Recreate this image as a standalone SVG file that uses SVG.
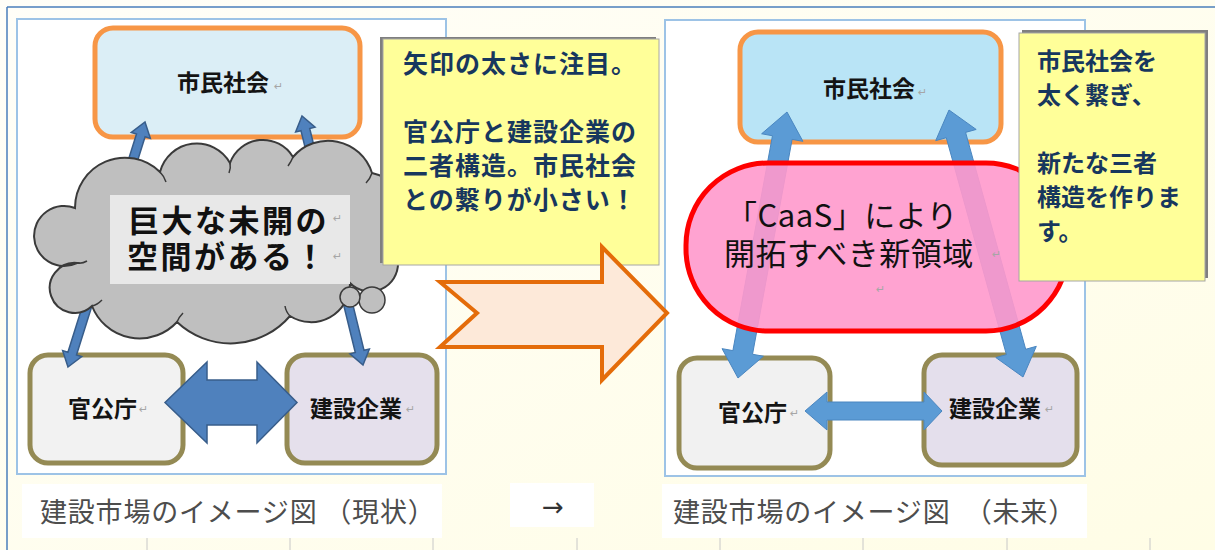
<svg xmlns="http://www.w3.org/2000/svg" width="1215" height="550" viewBox="0 0 1215 550">
<defs>
<linearGradient id="bg" x1="0" y1="0" x2="1" y2="1">
<stop offset="0" stop-color="#fffef8"/>
<stop offset="1" stop-color="#fffde6"/>
</linearGradient>
<style>
.frame{fill:#ffffff;stroke:#9dc3e6;stroke-width:2}
.civ{stroke:#f79646;stroke-width:5}
.base{stroke:#948a54;stroke-width:5}
.lbl{font-family:"Noto Sans CJK JP","Noto Sans CJK SC",sans-serif;font-weight:bold;font-size:23px;fill:#141414}
.ret{font-family:"DejaVu Sans",sans-serif;font-size:11px;fill:#a6a6a6}
.note{fill:#ffff99;stroke:#a6a6a6;stroke-width:1}
.shadow{fill:#7f7f7f}
.ntxt{font-family:"Noto Sans CJK JP","Noto Sans CJK SC",sans-serif;font-weight:bold;fill:#17375e}
.arrL{fill:#4f81bd;stroke:#385d8a;stroke-width:1.5;stroke-linejoin:miter}
.arrR{fill:#5b9bd5;stroke:#4a86c0;stroke-width:1}
.cap{font-family:"Noto Sans CJK JP","Noto Sans CJK SC",sans-serif;font-size:27px;fill:#4d4d4d}
.big{font-family:"Noto Sans CJK JP","Noto Sans CJK SC",sans-serif;font-size:31px;fill:#111111}
.tick{stroke:#c8c8c8;stroke-width:1}
</style>
</defs>

<rect x="0" y="0" width="1215" height="550" fill="url(#bg)"/>
<g id="caption-backgrounds" fill="#ffffff">
<rect x="22" y="484" width="420" height="54"/>
<rect x="510" y="483" width="84" height="44"/>
<rect x="662" y="484" width="425" height="54"/>
</g>
<g id="outer-lines" stroke="#4a7ebb" stroke-width="1.5">
<line x1="7" y1="7" x2="1215" y2="7"/>
<line x1="7" y1="7" x2="7" y2="550"/>
</g>
<g id="ticks" class="tick">
<line x1="147" y1="538" x2="147" y2="550"/>
<line x1="290" y1="538" x2="290" y2="550"/>
<line x1="433" y1="538" x2="433" y2="550"/>
<line x1="577" y1="538" x2="577" y2="550"/>
<line x1="720" y1="538" x2="720" y2="550"/>
<line x1="863" y1="538" x2="863" y2="550"/>
<line x1="1007" y1="538" x2="1007" y2="550"/>
<line x1="1150" y1="538" x2="1150" y2="550"/>
</g>

<g id="panel-left"><rect class="frame" x="17" y="19" width="429" height="455"/></g>
<g id="panel-right"><rect class="frame" x="665" y="20" width="420" height="456"/></g>

<g id="left-civil">
<rect class="civ" x="95" y="28" width="265" height="109" rx="18" fill="#dbeef6"/>
<text class="lbl" x="177" y="91" font-size="24">市民社会</text>
<text class="ret" x="274" y="90">↵</text>
</g>
<g id="left-gov">
<rect class="base" x="30" y="355" width="153" height="108" rx="18" fill="#f2f2f2"/>
<text class="lbl" x="68" y="417">官公庁</text>
<text class="ret" x="139" y="413">↵</text>
</g>
<g id="left-firms">
<rect class="base" x="287" y="355" width="150" height="108" rx="18" fill="#e5e0ec"/>
<text class="lbl" x="310" y="417" font-size="24">建設企業</text>
<text class="ret" x="406" y="413">↵</text>
</g>

<g id="right-civil">
<rect class="civ" x="740" y="32" width="261" height="110" rx="18" fill="#b9e4f6"/>
<text class="lbl" x="823" y="97" font-size="24">市民社会</text>
<text class="ret" x="918" y="96">↵</text>
</g>
<g id="right-gov">
<rect class="base" x="679" y="358" width="151" height="110" rx="18" fill="#f1f1f1"/>
<text class="lbl" x="718" y="421">官公庁</text>
<text class="ret" x="790" y="417">↵</text>
</g>
<g id="right-firms">
<rect class="base" x="924" y="355" width="153" height="110" rx="18" fill="#e4dfec"/>
<text class="lbl" x="949" y="417">建設企業</text>
<text class="ret" x="1045" y="413">↵</text>
</g>

<g id="connectors">
<polygon class="arrL" points="68,367 81.74,356.64 76.49,354.99 145.09,136.71 150.34,138.36 145,122 131.26,132.36 136.51,134.01 67.91,352.29 62.66,350.64"/>
<polygon class="arrL" points="363,365 369.38,349.02 364.04,350.33 309.70,128.53 315.04,127.22 302,116 295.62,131.98 300.96,130.67 355.30,352.47 349.96,353.78"/>
<polygon class="arrL" points="165,402.5 207,362 207,380 257,380 257,362 297,402.5 257,443 257,425 207,425 207,443"/>
<polygon class="arrR" points="738,378 763.36,356.23 752.54,354.24 792.12,139.38 802.94,141.37 787,112 761.64,133.77 772.46,135.76 732.88,350.62 722.06,348.63"/>
<polygon class="arrR" points="1023,377 1036.30,346.34 1025.70,349.28 965.58,132.38 976.18,129.44 949,110 935.70,140.66 946.30,137.72 1006.42,354.62 995.82,357.56"/>
<polygon class="arrR" points="805,411 827,392 827,402 924,402 924,392 942,411 924,430 924,420 827,420 827,430"/>
</g>

<g id="cloud">
<path d="M75,208 A50,50 0 0 1 160,172 A38,38 0 0 1 230,163 A35,35 0 0 1 293,157 A46,46 0 0 1 372,173 A53,53 0 0 1 398,262 A28,28 0 0 1 350,283 A39,39 0 0 1 290,316 A78,78 0 0 1 177,322 A51,51 0 0 1 92,306 A25,25 0 1 1 77,263 A30,30 0 1 1 75,208 Z" fill="#bfbfbf" stroke="#3a3a3a" stroke-width="2"/>
<g fill="none" stroke="#3a3a3a" stroke-width="1.5">
<path d="M160,172 q4,4 6,10"/>
<path d="M230,163 q1,5 -1,10"/>
<path d="M293,157 q-2,5 -5,9"/>
<path d="M372,173 q-2,6 -6,10"/>
<path d="M290,316 q-4,-4 -5,-10"/>
<path d="M177,322 q2,-5 6,-9"/>
<path d="M92,306 q5,-1 10,-6"/>
<path d="M77,263 q5,1 10,-2"/>
</g>
<circle cx="372" cy="300" r="13" fill="#bfbfbf" stroke="#3a3a3a" stroke-width="1.5"/>
<circle cx="350" cy="297" r="10" fill="#bfbfbf" stroke="#3a3a3a" stroke-width="1.5"/>
<rect x="110" y="195" width="240" height="89" fill="#e8e8e8"/>
<text class="big" font-weight="bold" letter-spacing="2.5"><tspan x="128" y="232">巨大な未開の</tspan><tspan x="127" y="268">空間がある！</tspan></text>
<text class="ret" x="333" y="222">↵</text>
<text class="ret" x="333" y="260">↵</text>
</g>

<g id="new-domain">
<rect x="686" y="163" width="382" height="168" rx="82" ry="82" fill="#ff99cc" fill-opacity="0.9" stroke="#ff0000" stroke-width="5"/>
<text class="big" letter-spacing="0.5"><tspan x="726" y="227">「CaaS」により</tspan><tspan x="724" y="265">開拓すべき新領域</tspan></text>
<text class="ret" x="992" y="258">↵</text>
<text class="ret" x="876" y="293">↵</text>
</g>

<g id="note-left">
<rect class="shadow" x="380" y="37" width="276" height="226"/>
<rect class="note" x="383" y="39" width="276" height="226"/>
<text class="ntxt" font-size="25" letter-spacing="1"><tspan x="403" y="73">矢印の太さに注目。</tspan><tspan x="403" y="141">官公庁と建設企業の</tspan><tspan x="403" y="175">二者構造。市民社会</tspan><tspan x="403" y="209">との繋りが小さい！</tspan></text>
</g>

<g id="note-right">
<rect class="shadow" x="1022" y="30" width="186" height="248"/>
<rect class="note" x="1019" y="33" width="186" height="248"/>
<text class="ntxt" font-size="24"><tspan x="1037" y="70">市民社会を</tspan><tspan x="1037" y="104">太く繋ぎ、</tspan><tspan x="1037" y="172">新たな三者</tspan><tspan x="1037" y="206">構造を作りま</tspan><tspan x="1037" y="240">す。</tspan></text>
</g>

<g id="transition-arrow">
<polygon points="440,282 602,282 602,247 667,313 602,380 602,347 440,347 477,313" fill="#fde9d9" stroke="#e46c0a" stroke-width="4"/>
</g>

<g id="captions">
<text class="cap" x="40" y="522" letter-spacing="0.8">建設市場のイメージ図 （現状）</text>
<text x="542" y="516" font-family="DejaVu Sans, sans-serif" font-size="26" fill="#333333">→</text>
<text class="cap" x="673" y="522" letter-spacing="0.8">建設市場のイメージ図　（未来）</text>
</g>
</svg>
